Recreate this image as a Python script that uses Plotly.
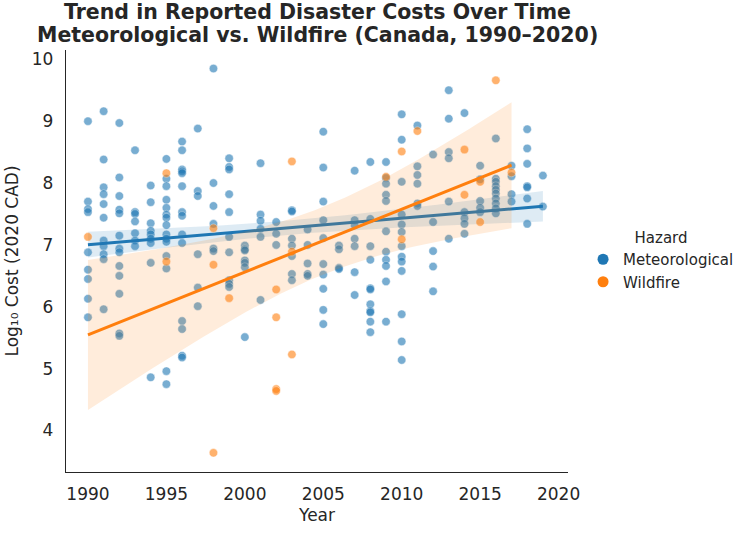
import numpy as np
import plotly.graph_objects as go

# ---------------- data ----------------
met_year = (
    [1990] * 9 + [1991] * 11 + [1992] * 13 + [1993] * 7 + [1994] * 9 +
    [1995] * 15 + [1996] * 14 + [1997] * 6 + [1998] * 6 + [1999] * 10 +
    [2000] * 7 + [2001] * 6 + [2002] * 3 + [2003] * 7 + [2004] * 5 +
    [2005] * 10 + [2006] * 4 + [2007] * 7 + [2008] * 11 + [2009] * 11 +
    [2010] * 13 + [2011] * 6 + [2012] * 5 + [2013] * 6 + [2014] * 5 +
    [2015] * 5 + [2016] * 10 + [2017] * 4 + [2018] * 7 + [2019] * 2
)
met_cost = [
    9.00, 7.70, 7.58, 7.53, 6.88, 6.60, 6.45, 6.13, 5.83,
    9.16, 8.38, 7.93, 7.82, 7.66, 7.44, 7.07, 6.98, 6.85, 6.77, 5.96,
    8.97, 8.09, 7.79, 7.57, 7.51, 7.15, 6.94, 6.88, 6.66, 6.50, 6.21, 5.57, 5.53,
    8.53, 7.53, 7.50, 7.38, 7.19, 7.07, 6.98,
    7.96, 7.69, 7.35, 7.23, 7.17, 7.10, 7.03, 6.71, 4.86,
    8.39, 8.07, 7.95, 7.73, 7.60, 7.49, 7.44, 7.32, 7.17, 7.10, 7.05, 6.82, 6.62, 4.96, 4.75,
    8.67, 8.53, 8.22, 8.19, 8.16, 7.95, 7.53, 7.47, 7.17, 7.03, 5.77, 5.64, 5.21, 5.18,
    8.88, 7.87, 7.79, 6.85, 6.31, 6.01,
    9.85, 8.00, 7.63, 7.34, 6.94, 6.90,
    8.40, 8.26, 8.22, 7.82, 7.53, 7.13, 6.88, 6.43, 6.37, 6.32,
    6.99, 6.93, 6.91, 6.75, 6.71, 6.64, 5.51,
    8.32, 7.49, 7.39, 7.26, 7.13, 6.11,
    7.37, 7.18, 7.00,
    7.56, 7.54, 7.10, 6.99, 6.82, 6.53, 6.43,
    7.25, 7.00, 6.70, 6.53, 6.50,
    8.83, 8.25, 7.70, 7.40, 7.11, 6.69, 6.52, 6.29, 5.95, 5.72,
    6.99, 6.93, 6.63, 6.61,
    8.20, 7.40, 7.32, 7.10, 6.98, 6.56, 6.19,
    8.34, 7.42, 6.98, 6.76, 6.30, 6.28, 6.04, 5.93, 5.91, 5.76, 5.59,
    8.34, 8.08, 7.99, 7.81, 7.71, 7.22, 6.89, 6.76, 6.66, 6.41, 5.76,
    9.11, 8.70, 8.02, 7.49, 7.33, 7.21, 6.98, 6.81, 6.73, 6.58, 5.88, 5.44, 5.14,
    8.93, 8.27, 8.13, 7.99, 7.67, 7.63,
    8.46, 7.37, 6.90, 6.65, 6.25,
    9.50, 9.04, 8.50, 8.40, 7.70, 7.10,
    9.13, 7.53, 7.43, 7.34, 7.18,
    8.28, 8.06, 7.71, 7.60, 7.53,
    8.72, 8.07, 8.02, 7.95, 7.89, 7.83, 7.75, 7.67, 7.59, 7.51,
    8.28, 8.11, 7.82, 7.70,
    8.87, 8.56, 8.31, 7.95, 7.93, 7.75, 7.34,
    8.12, 7.62,
]

fire_year = [1990, 1995, 1995, 1998, 1998, 1998, 1999, 2002, 2002, 2002, 2002,
             2003, 2003, 2003, 2009, 2010, 2010, 2011, 2014, 2014, 2015, 2015,
             2016, 2017]
fire_cost = [7.13, 8.16, 6.73, 7.27, 6.68, 3.64, 6.14, 6.28, 5.83, 4.67, 4.64,
             8.35, 6.89, 5.23, 8.10, 8.51, 7.09, 8.84, 8.54, 7.81, 8.02, 7.37,
             9.66, 8.17]

hazards = ["Meteorological", "Wildfire"]
colors = ["#1f77b4", "#ff7f0e"]
band_colors = ["rgba(31,119,180,0.15)", "rgba(255,127,14,0.15)"]

x_ticks = [1990, 1995, 2000, 2005, 2010, 2015, 2020]
y_ticks = [4, 5, 6, 7, 8, 9, 10]

title_lines = ["Trend in Reported Disaster Costs Over Time",
               "Meteorological vs. Wildfire (Canada, 1990–2020)"]

TXT = "#262626"
FONT = "DejaVu Sans"


def t_quantile(df, z=1.959964):
    # Cornish-Fisher style expansion of Student t 97.5% quantile
    return (z + (z ** 3 + z) / (4 * df)
            + (5 * z ** 5 + 16 * z ** 3 + 3 * z) / (96 * df ** 2))


def fit_with_ci(xs, ys):
    xs = np.asarray(xs, float)
    ys = np.asarray(ys, float)
    n = len(xs)
    slope, icpt = np.polyfit(xs, ys, 1)
    grid = np.linspace(xs.min(), xs.max(), 100)
    pred = icpt + slope * grid
    resid = ys - (icpt + slope * xs)
    s = np.sqrt(np.sum(resid ** 2) / (n - 2))
    xm = xs.mean()
    sxx = np.sum((xs - xm) ** 2)
    se = s * np.sqrt(1.0 / n + (grid - xm) ** 2 / sxx)
    t = t_quantile(n - 2)
    return grid, pred, pred - t * se, pred + t * se


fig = go.Figure()
data = [(met_year, met_cost), (fire_year, fire_cost)]
for name, (xs, ys), col, bcol in zip(hazards, data, colors, band_colors):
    fig.add_trace(go.Scatter(
        x=xs, y=ys, mode="markers", showlegend=False, hoverinfo="x+y",
        marker=dict(size=8.5, color=col, opacity=0.6,
                    line=dict(color="white", width=0.5)),
        name=name))
    gx, gp, lo, hi = fit_with_ci(xs, ys)
    fig.add_trace(go.Scatter(
        x=np.concatenate([gx, gx[::-1]]), y=np.concatenate([hi, lo[::-1]]),
        mode="lines", fill="toself", fillcolor=bcol,
        line=dict(width=0, color=bcol), showlegend=False, hoverinfo="skip"))
    fig.add_trace(go.Scatter(
        x=gx, y=gp, mode="lines", line=dict(color=col, width=3),
        showlegend=False, hoverinfo="skip"))

# legend entries (solid markers like the reference legend)
for name, col in zip(hazards, colors):
    fig.add_trace(go.Scatter(
        x=[None], y=[None], mode="markers", name=name,
        marker=dict(size=11, color=col)))

# two-line bold title, placed as annotations for tight line spacing
for text, ypos in zip(title_lines, [1.089, 1.035]):
    fig.add_annotation(
        text=f"<b>{text}</b>", xref="paper", yref="paper", x=0.5, y=ypos,
        xanchor="center", yanchor="middle", showarrow=False,
        font=dict(family=FONT, size=20.5, color=TXT))

fig.update_layout(
    width=751, height=533,
    margin=dict(l=63, r=180, t=50, b=55),
    paper_bgcolor="white", plot_bgcolor="white",
    font=dict(family=FONT, color=TXT, size=16),
    legend=dict(
        x=1.03, y=0.5, xanchor="left", yanchor="middle",
        title=dict(text="Hazard", side="top center",
                   font=dict(size=15, color=TXT)),
        font=dict(size=15, color=TXT),
        bgcolor="rgba(0,0,0,0)", itemwidth=30, tracegroupgap=3),
    showlegend=True,
)

fig.update_xaxes(
    range=[1988.6, 2020.6], tickvals=x_ticks, ticktext=[str(v) for v in x_ticks],
    showgrid=False, zeroline=False, showline=True, linecolor=TXT, linewidth=1.3,
    ticks="", ticklabelstandoff=6, tickfont=dict(size=17, color=TXT),
    title=dict(text="Year", font=dict(size=17, color=TXT), standoff=6))
fig.update_yaxes(
    range=[3.33, 10.15], tickvals=y_ticks, ticktext=[str(v) for v in y_ticks],
    showgrid=False, zeroline=False, showline=True, linecolor=TXT, linewidth=1.3,
    ticks="", ticklabelstandoff=8, tickfont=dict(size=17, color=TXT),
    title=dict(text="Log₁₀ Cost (2020 CAD)", font=dict(size=17, color=TXT),
               standoff=8))

fig.write_html("out.html")
